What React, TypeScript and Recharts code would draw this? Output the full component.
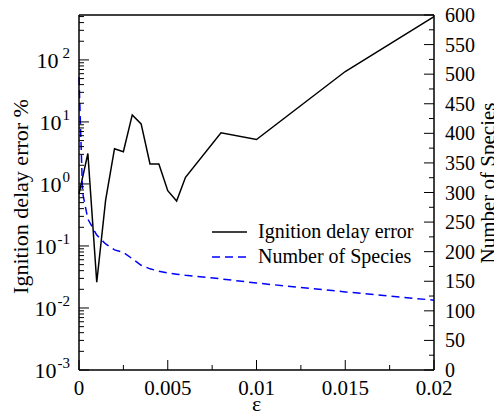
import React from 'react';
import { LineChart, Line, XAxis, YAxis, Legend } from 'recharts';

// ---- data ----
const epsErr = [0, 0.0005, 0.001, 0.0015, 0.002, 0.0025, 0.003, 0.0035, 0.004, 0.0045, 0.005, 0.0055, 0.006, 0.008, 0.01, 0.015, 0.02];
const errVals = [0.7, 3.1, 0.026, 0.55, 3.7, 3.3, 13, 9.3, 2.1, 2.1, 0.78, 0.53, 1.28, 6.7, 5.2, 65, 500];

const epsSpecies = [0, 0.0002, 0.0005, 0.001, 0.0015, 0.002, 0.0025, 0.003, 0.0035, 0.004, 0.0045, 0.005, 0.0055, 0.006, 0.008, 0.01, 0.015, 0.02];
const speciesVals = [495, 300, 255, 228, 213, 203, 199, 188, 177, 171, 167, 164, 162, 160, 154, 147, 132, 118];

const xTicks = [0, 0.0025, 0.005, 0.0075, 0.01, 0.0125, 0.015, 0.0175, 0.02];
const xMajorTicks = [0, 0.005, 0.01, 0.015, 0.02];
const xTickLabels = ['0', '0.005', '0.01', '0.015', '0.02'];

const logMajor = [0.001, 0.01, 0.1, 1, 10, 100];
const logExponents = ['-3', '-2', '-1', '0', '1', '2'];
const logTop = 530;

const speciesTicks = [0, 25, 50, 75, 100, 125, 150, 175, 200, 225, 250, 275, 300, 325, 350, 375, 400, 425, 450, 475, 500, 525, 550, 575, 600];
const speciesMajor = [0, 50, 100, 150, 200, 250, 300, 350, 400, 450, 500, 550, 600];

const errData = epsErr.map((x, i) => ({ x, err: errVals[i] }));
const speciesData = epsSpecies.map((x, i) => ({ x, species: speciesVals[i] }));

const logMinor: number[] = [];
logMajor.forEach((d) => {
  for (let m = 2; m <= 9; m++) {
    if (d * m <= logTop) logMinor.push(d * m);
  }
});
const logTicks = [...logMajor, ...logMinor].sort((a, b) => a - b);

const FONT = '"Liberation Serif", "Times New Roman", Times, serif';
const BLUE = '#0000ff';

const near = (a: number, b: number) => Math.abs(a - b) < 1e-9;

const LeftTick = (props: any) => {
  const { x, y, payload } = props;
  const v = payload.value;
  const idx = logMajor.findIndex((m) => Math.abs(Math.log10(m) - Math.log10(v)) < 1e-6);
  const major = idx >= 0;
  const exp = major ? logExponents[idx] : '';
  return (
    <g>
      <line x1={x} x2={x + (major ? 10 : 5)} y1={y} y2={y} stroke="#000" strokeWidth={1} />
      {major && (
        <text x={x - 9} y={y + 8} textAnchor="end" fontFamily={FONT} fontSize={22} fill="#000">
          10
          <tspan dx={exp === '2' ? 4 : 1} dy={-10} fontSize={15}>{exp}</tspan>
        </text>
      )}
    </g>
  );
};

const RightTick = (props: any) => {
  const { x, y, payload } = props;
  const v = payload.value;
  const major = speciesMajor.some((m) => near(m, v));
  return (
    <g>
      <line x1={x} x2={x - (major ? 10 : 5)} y1={y} y2={y} stroke="#000" strokeWidth={1} />
      {major && (
        <text x={x + 11} y={y + 7} textAnchor="start" fontFamily={FONT} fontSize={20} fill="#000">
          {v}
        </text>
      )}
    </g>
  );
};

const BottomTick = (props: any) => {
  const { x, y, payload } = props;
  const v = payload.value;
  const idx = xMajorTicks.findIndex((m) => near(m, v));
  const major = idx >= 0;
  return (
    <g>
      <line x1={x} x2={x} y1={y} y2={y - (major ? 10 : 5)} stroke="#000" strokeWidth={1} />
      {major && (
        <text x={x} y={y + 25} textAnchor="middle" fontFamily={FONT} fontSize={21} fill="#000">
          {xTickLabels[idx]}
        </text>
      )}
    </g>
  );
};

const TopTick = (props: any) => {
  const { x, y, payload } = props;
  const v = payload.value;
  const major = xMajorTicks.some((m) => near(m, v));
  return <line x1={x} x2={x} y1={y} y2={y + (major ? 10 : 5)} stroke="#000" strokeWidth={1} />;
};

const LegendBox = () => (
  <svg width={270} height={60} style={{ display: 'block', overflow: 'visible' }}>
    <line x1={4} x2={39} y1={14} y2={14} stroke="#000" strokeWidth={1.5} />
    <text x={50} y={20} fontFamily={FONT} fontSize={20} fill="#000">Ignition delay error</text>
    <line x1={4} x2={39} y1={39} y2={39} stroke={BLUE} strokeWidth={1.5} strokeDasharray="8 5" />
    <text x={50} y={45} fontFamily={FONT} fontSize={20} fill="#000">Number of Species</text>
  </svg>
);

export default function App() {
  return (
    <div style={{ width: 494, height: 408, fontFamily: FONT }}>
      <LineChart width={494} height={408} margin={{ top: 0, right: 0, bottom: 0, left: 0 }}>
        <XAxis
          xAxisId="bottom"
          dataKey="x"
          type="number"
          domain={[0, 0.02]}
          ticks={xTicks}
          interval={0}
          height={46}
          tickSize={0}
          tickMargin={0}
          axisLine={{ stroke: '#000', strokeWidth: 1.5 }}
          tick={(p: any) => <BottomTick {...p} />}
          label={(p: any) => {
            const vb = p.viewBox || {};
            return (
              <text x={vb.x + vb.width / 2} y={vb.y + 41} textAnchor="middle" fontFamily={FONT} fontSize={22} fill="#000">
                ε
              </text>
            );
          }}
        />
        <XAxis
          xAxisId="top"
          orientation="top"
          dataKey="x"
          type="number"
          domain={[0, 0.02]}
          ticks={xTicks}
          interval={0}
          height={7}
          tickSize={0}
          tickMargin={0}
          axisLine={{ stroke: '#000', strokeWidth: 1.5 }}
          tick={(p: any) => <TopTick {...p} />}
        />
        <YAxis
          yAxisId="left"
          scale="log"
          type="number"
          domain={[0.001, logTop]}
          allowDataOverflow
          ticks={logTicks}
          interval={0}
          width={71}
          tickSize={0}
          tickMargin={0}
          axisLine={{ stroke: '#000', strokeWidth: 1.5 }}
          tick={(p: any) => <LeftTick {...p} />}
          label={(p: any) => {
            const vb = p.viewBox || {};
            const cx = vb.x + 12;
            const cy = vb.y + vb.height / 2 + 4;
            return (
              <text x={cx} y={cy} transform={`rotate(-90 ${cx} ${cy})`} textAnchor="middle" dominantBaseline="central" fontFamily={FONT} fontSize={22} fill="#000">
                Ignition delay error %
              </text>
            );
          }}
        />
        <YAxis
          yAxisId="right"
          orientation="right"
          type="number"
          domain={[0, 600]}
          ticks={speciesTicks}
          interval={0}
          width={68}
          tickSize={0}
          tickMargin={0}
          axisLine={{ stroke: '#000', strokeWidth: 1.5 }}
          tick={(p: any) => <RightTick {...p} />}
        />
        <text
          x={487}
          y={175}
          transform="rotate(-90 487 175)"
          textAnchor="middle"
          fontFamily={FONT}
          fontSize={21}
          fill="#000"
        >
          Number of Species
        </text>
        <Legend
          layout="vertical"
          verticalAlign="middle"
          align="center"
          wrapperStyle={{ position: 'absolute', left: 200, top: 210, width: 270, height: 60 }}
          content={() => <LegendBox />}
        />
        <Line
          data={errData}
          xAxisId="bottom"
          yAxisId="left"
          dataKey="err"
          type="linear"
          stroke="#000"
          strokeWidth={1.5}
          dot={false}
          isAnimationActive={false}
        />
        <Line
          data={speciesData}
          xAxisId="bottom"
          yAxisId="right"
          dataKey="species"
          type="linear"
          stroke={BLUE}
          strokeWidth={1.5}
          strokeDasharray="8 5"
          dot={false}
          isAnimationActive={false}
        />
      </LineChart>
    </div>
  );
}
